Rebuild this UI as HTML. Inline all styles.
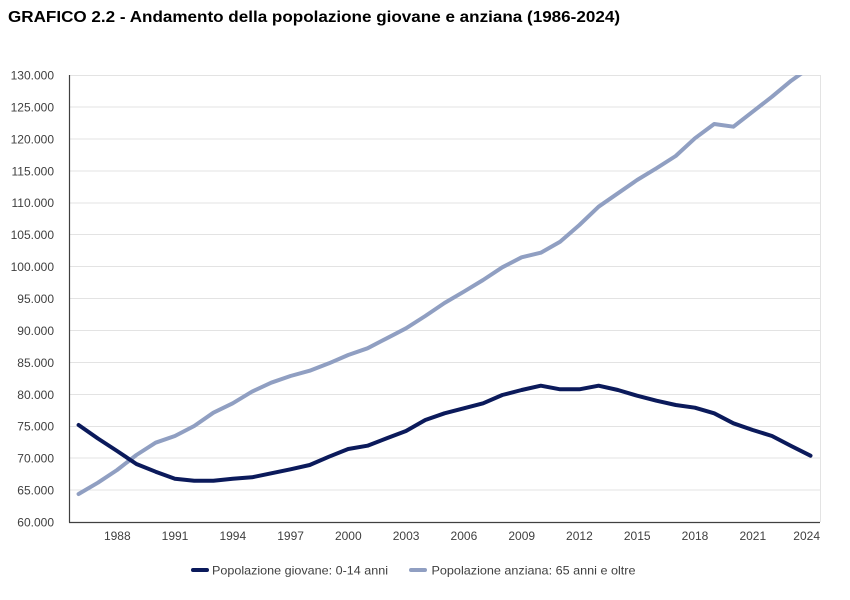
<!DOCTYPE html>
<html>
<head>
<meta charset="utf-8">
<style>
  html, body { margin:0; padding:0; background:#ffffff; }
  svg { display:block; }
  text { font-family: "Liberation Sans", "DejaVu Sans", sans-serif; }
</style>
</head>
<body>
<svg width="850" height="600" viewBox="0 0 850 600" xmlns="http://www.w3.org/2000/svg">
  <rect width="850" height="600" fill="#ffffff"/>
  <!-- Title -->
  <text x="8" y="22" font-size="16" font-weight="bold" fill="#000000" textLength="612" lengthAdjust="spacingAndGlyphs">GRAFICO 2.2 - Andamento della popolazione giovane e anziana (1986-2024)</text>

  <!-- Gridlines -->
  <g stroke="#e3e3e3" stroke-width="1">
    <line x1="69" y1="75.5" x2="820" y2="75.5"/>
    <line x1="69" y1="107" x2="820" y2="107"/>
    <line x1="69" y1="139" x2="820" y2="139"/>
    <line x1="69" y1="171" x2="820" y2="171"/>
    <line x1="69" y1="203" x2="820" y2="203"/>
    <line x1="69" y1="234.5" x2="820" y2="234.5"/>
    <line x1="69" y1="266.5" x2="820" y2="266.5"/>
    <line x1="69" y1="298.5" x2="820" y2="298.5"/>
    <line x1="69" y1="330.5" x2="820" y2="330.5"/>
    <line x1="69" y1="362.5" x2="820" y2="362.5"/>
    <line x1="69" y1="394.5" x2="820" y2="394.5"/>
    <line x1="69" y1="426.5" x2="820" y2="426.5"/>
    <line x1="69" y1="458" x2="820" y2="458"/>
    <line x1="69" y1="490" x2="820" y2="490"/>
    <line x1="820.5" y1="75" x2="820.5" y2="522"/>
  </g>

  <!-- Axes -->
  <g stroke="#404040" stroke-width="1.2">
    <line x1="69.5" y1="75" x2="69.5" y2="522.5"/>
    <line x1="69" y1="522.5" x2="820" y2="522.5"/>
  </g>

  <!-- Y labels -->
  <g font-size="12" fill="#404040" text-anchor="end">
    <text x="54" y="79.5">130.000</text>
    <text x="54" y="111.4">125.000</text>
    <text x="54" y="143.3">120.000</text>
    <text x="54" y="175.3">115.000</text>
    <text x="54" y="207.2">110.000</text>
    <text x="54" y="239.1">105.000</text>
    <text x="54" y="271">100.000</text>
    <text x="54" y="303">95.000</text>
    <text x="54" y="334.9">90.000</text>
    <text x="54" y="366.8">85.000</text>
    <text x="54" y="398.8">80.000</text>
    <text x="54" y="430.7">75.000</text>
    <text x="54" y="462.6">70.000</text>
    <text x="54" y="494.6">65.000</text>
    <text x="54" y="526.5">60.000</text>
  </g>

  <!-- X labels -->
  <g font-size="12" fill="#404040" text-anchor="middle">
    <text x="117.3" y="540">1988</text>
    <text x="175" y="540">1991</text>
    <text x="232.8" y="540">1994</text>
    <text x="290.6" y="540">1997</text>
    <text x="348.3" y="540">2000</text>
    <text x="406.1" y="540">2003</text>
    <text x="463.9" y="540">2006</text>
    <text x="521.7" y="540">2009</text>
    <text x="579.4" y="540">2012</text>
    <text x="637.2" y="540">2015</text>
    <text x="695" y="540">2018</text>
    <text x="752.8" y="540">2021</text>
    <text x="820" y="540" text-anchor="end">2024</text>
  </g>

  <defs>
    <clipPath id="plot">
      <rect x="69" y="75" width="752" height="448"/>
    </clipPath>
  </defs>

  <g clip-path="url(#plot)" fill="none" stroke-width="4" stroke-linejoin="round" stroke-linecap="round">
    <!-- Anziana -->
    <polyline stroke="#909fc2" points="78.6,494 97.9,482.7 117.1,470 136.4,455 155.6,442.7 174.9,436 194.2,426 213.4,412.7 232.7,403.3 251.9,391.7 271.2,382.7 290.5,376 309.7,370.7 329,363.3 348.2,355 367.5,348.3 386.8,338.3 406,328.3 425.3,316 444.5,303 463.8,291.7 483.1,280 502.3,267.3 521.6,257.3 540.8,252.7 560.1,241.7 579.4,225 598.6,206.7 617.9,193.3 637.1,180 656.4,168.3 675.7,156 694.9,138.3 714.2,124 733.4,126.7 752.7,111.7 772,96.7 791.2,80.7 810.5,67"/>
    <!-- Giovane -->
    <polyline stroke="#0b1a5b" points="78.6,425 97.9,438.5 117.1,451 136.4,464 155.6,471.7 174.9,478.7 194.2,480.7 213.4,480.7 232.7,478.7 251.9,477.3 271.2,473.3 290.5,469.3 309.7,465 329,456.7 348.2,449 367.5,445.7 386.8,438.3 406,431 425.3,420 444.5,413.3 463.8,408.3 483.1,403.3 502.3,395 521.6,390 540.8,385.7 560.1,389.3 579.4,389.3 598.6,385.7 617.9,390 637.1,395.7 656.4,400.7 675.7,405 694.9,407.7 714.2,413.3 733.4,423.3 752.7,430 772,436 791.2,446 810.5,455.7"/>
  </g>

  <!-- Legend -->
  <g stroke-width="4" stroke-linecap="round">
    <line x1="193" y1="570" x2="207" y2="570" stroke="#0b1a5b"/>
    <line x1="411" y1="570" x2="425" y2="570" stroke="#909fc2"/>
  </g>
  <g font-size="12" fill="#404040">
    <text x="212" y="574.5" textLength="176" lengthAdjust="spacingAndGlyphs">Popolazione giovane: 0-14 anni</text>
    <text x="431.5" y="574.5" textLength="204" lengthAdjust="spacingAndGlyphs">Popolazione anziana: 65 anni e oltre</text>
  </g>
</svg>
</body>
</html>
